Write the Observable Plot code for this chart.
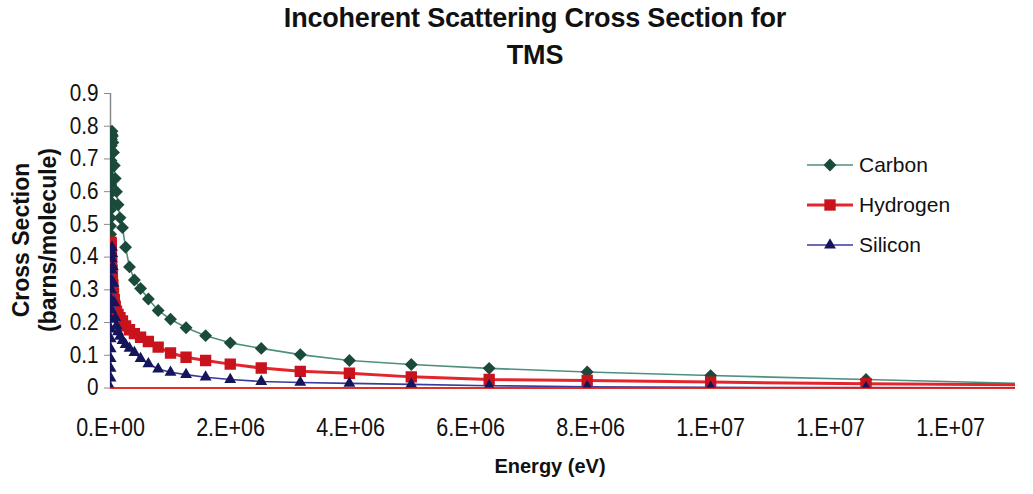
<!DOCTYPE html>
<html>
<head>
<meta charset="utf-8">
<script src="https://cdn.jsdelivr.net/npm/d3@7"></script>
<script src="https://cdn.jsdelivr.net/npm/@observablehq/plot@0.6"></script>
<style>
  html, body { margin: 0; padding: 0; background: #fff; }
  #chart { position: relative; width: 1033px; height: 494px; font-family: "Liberation Sans", Arial, sans-serif; color: #111; overflow: hidden; }
  #chart > svg.plot { position: absolute; left: 0; top: 0; }
  #title { position: absolute; left: 0; top: 0; width: 1070px; text-align: center; font-weight: bold; font-size: 27px; line-height: 37px; letter-spacing: -0.2px; }
  #ytitle { position: absolute; left: 34.5px; top: 240px; transform: translate(-50%, -50%) rotate(-90deg); white-space: nowrap; text-align: center; font-weight: bold; font-size: 23px; line-height: 27px; }
  #xtitle { position: absolute; left: 0; top: 454px; width: 1100px; text-align: center; font-weight: bold; font-size: 20px; line-height: 24px; }
  #legend { position: absolute; left: 800px; top: 140px; }
</style>
</head>
<body>
<div id="chart">
  <div id="title">Incoherent Scattering Cross Section for<br>TMS</div>
  <div id="ytitle">Cross Section<br>(barns/molecule)</div>
  <div id="xtitle">Energy (eV)</div>
</div>
<script>
// Photon energies (eV), ten points per decade from 1 keV to ~16 MeV
const energy = [
  1000, 1259, 1585, 1995, 2512, 3162, 3981, 5012, 6310, 7943,
  10000, 12589, 15849, 19953, 25119, 31623, 39811, 50119, 63096, 79433,
  100000, 125893, 158489, 199526, 251189, 316228, 398107, 501187, 630957, 794328,
  1000000, 1258925, 1584893, 1995262, 2511886, 3162278, 3981072, 5011872, 6309573, 7943282,
  10000000, 12589254, 15848932
];

// Incoherent cross section contributions (barns/molecule)
const carbon = [
  0.47, 0.495, 0.52, 0.545, 0.57, 0.595, 0.62, 0.645, 0.67, 0.695,
  0.72, 0.74, 0.76, 0.775, 0.785, 0.77, 0.75, 0.72, 0.68, 0.64,
  0.60, 0.56, 0.52, 0.49, 0.43, 0.37, 0.33, 0.304, 0.272, 0.237,
  0.21, 0.184, 0.16, 0.138, 0.121, 0.102, 0.084, 0.072, 0.060, 0.049,
  0.038, 0.026, 0.011
];
const hydrogen = [
  0.30, 0.33, 0.36, 0.39, 0.41, 0.43, 0.44, 0.445, 0.445, 0.44,
  0.43, 0.415, 0.40, 0.38, 0.36, 0.34, 0.315, 0.29, 0.27, 0.25,
  0.235, 0.225, 0.215, 0.205, 0.19, 0.178, 0.166, 0.155, 0.142, 0.125,
  0.107, 0.094, 0.084, 0.073, 0.061, 0.051, 0.045, 0.034, 0.026, 0.023,
  0.018, 0.013, 0.009
];
const silicon = [
  0.0, 0.03, 0.06, 0.09, 0.12, 0.15, 0.18, 0.21, 0.24, 0.27,
  0.30, 0.33, 0.36, 0.395, 0.43, 0.41, 0.37, 0.32, 0.26, 0.215,
  0.19, 0.172, 0.158, 0.145, 0.133, 0.121, 0.108, 0.09, 0.074, 0.058,
  0.048, 0.041, 0.033, 0.026, 0.020, 0.017, 0.014, 0.011, 0.007, 0.004,
  0.002, 0.001, 0.0
];

const seriesNames = ["Carbon", "Hydrogen", "Silicon"];

// Axis ticks and their labels (scientific format with no decimals)
const xTicks = [0, 2e6, 4e6, 6e6, 8e6, 1e7, 1.2e7, 1.4e7];
const xTickLabels = ["0.E+00", "2.E+06", "4.E+06", "6.E+06", "8.E+06", "1.E+07", "1.E+07", "1.E+07"];
const yTicks = [0, 0.1, 0.2, 0.3, 0.4, 0.5, 0.6, 0.7, 0.8, 0.9];
const yTickLabels = ["0", "0.1", "0.2", "0.3", "0.4", "0.5", "0.6", "0.7", "0.8", "0.9"];
const xAxisMax = 15.08e6;

const styles = {
  Carbon:   { line: "#4f8f7f", lineWidth: 1.6, marker: "#1b4a3b", symbol: "diamond2", r: 5.8, d3sym: d3.symbolDiamond2 },
  Hydrogen: { line: "#e4262c", lineWidth: 3,   marker: "#c8131d", symbol: "square",   r: 6.4, d3sym: d3.symbolSquare },
  Silicon:  { line: "#3a3a9c", lineWidth: 1.6, marker: "#15155c", symbol: "triangle", r: 4.4, d3sym: d3.symbolTriangle }
};

const valuesByName = { Carbon: carbon, Hydrogen: hydrogen, Silicon: silicon };
const rows = name => energy.map((e, i) => ({ energy: e, value: valuesByName[name][i] }));

const xLabelOf = new Map(xTicks.map((t, i) => [t, xTickLabels[i]]));
const yLabelOf = new Map(yTicks.map((t, i) => [t, yTickLabels[i]]));

const seriesMarks = seriesNames.flatMap(name => {
  const s = styles[name];
  const data = rows(name);
  return [
    Plot.line(data, { x: "energy", y: "value", stroke: s.line, strokeWidth: s.lineWidth, clip: true }),
    Plot.dot(data, { x: "energy", y: "value", symbol: s.symbol, r: s.r, fill: s.marker, stroke: "none", clip: true })
  ];
});

const plot = Plot.plot({
  width: 1033,
  height: 494,
  marginLeft: 110,
  marginRight: 18,
  marginTop: 93,
  marginBottom: 106.5,
  x: { type: "linear", domain: [0, xAxisMax] },
  y: { domain: [0, 0.9] },
  style: { fontFamily: "'Liberation Sans', Arial, sans-serif", color: "#111", background: "transparent", overflow: "visible" },
  marks: [
    Plot.ruleY([0], { stroke: "#e0302c", strokeWidth: 2 }),
    Plot.ruleX([0], { stroke: "#8a8a8a", strokeWidth: 1.5 }),
    Plot.axisY({ ticks: yTicks, tickFormat: d => yLabelOf.get(d), tickSize: 6, tickPadding: 6, stroke: "#8a8a8a", fontSize: 23, label: null }),
    Plot.axisX({ ticks: xTicks, tickFormat: d => xLabelOf.get(d), tickSize: 0, tickPadding: 30, fontSize: 25, label: null }),
    ...seriesMarks
  ]
});
plot.classList.add("plot");
document.getElementById("chart").prepend(plot);

// Tick labels use a slightly condensed face
function condense(selector, factor) {
  plot.querySelectorAll(selector).forEach(t => {
    const w = t.getComputedTextLength();
    t.setAttribute("textLength", (w * factor).toFixed(2));
    t.setAttribute("lengthAdjust", "spacingAndGlyphs");
  });
}
condense('g[aria-label="x-axis tick label"] text', 0.86);
condense('g[aria-label="y-axis tick label"] text', 0.9);

// Legend: line sample with marker, then series name
const legend = d3.select("#chart").append("svg")
  .attr("id", "legend").attr("width", 200).attr("height", 130);
seriesNames.forEach((name, i) => {
  const s = styles[name];
  const g = legend.append("g").attr("transform", `translate(0,${25 + i * 40})`);
  g.append("line").attr("x1", 7).attr("x2", 53).attr("y1", 0).attr("y2", 0)
    .attr("stroke", s.line).attr("stroke-width", s.lineWidth);
  g.append("path").attr("transform", "translate(30,0)")
    .attr("d", d3.symbol(s.d3sym, Math.PI * s.r * s.r)())
    .attr("fill", s.marker);
  g.append("text").attr("x", 59).attr("y", 0).attr("dy", "0.35em")
    .attr("font-size", 21).attr("fill", "#111")
    .attr("font-family", "'Liberation Sans', Arial, sans-serif")
    .text(name);
});
</script>
</body>
</html>
